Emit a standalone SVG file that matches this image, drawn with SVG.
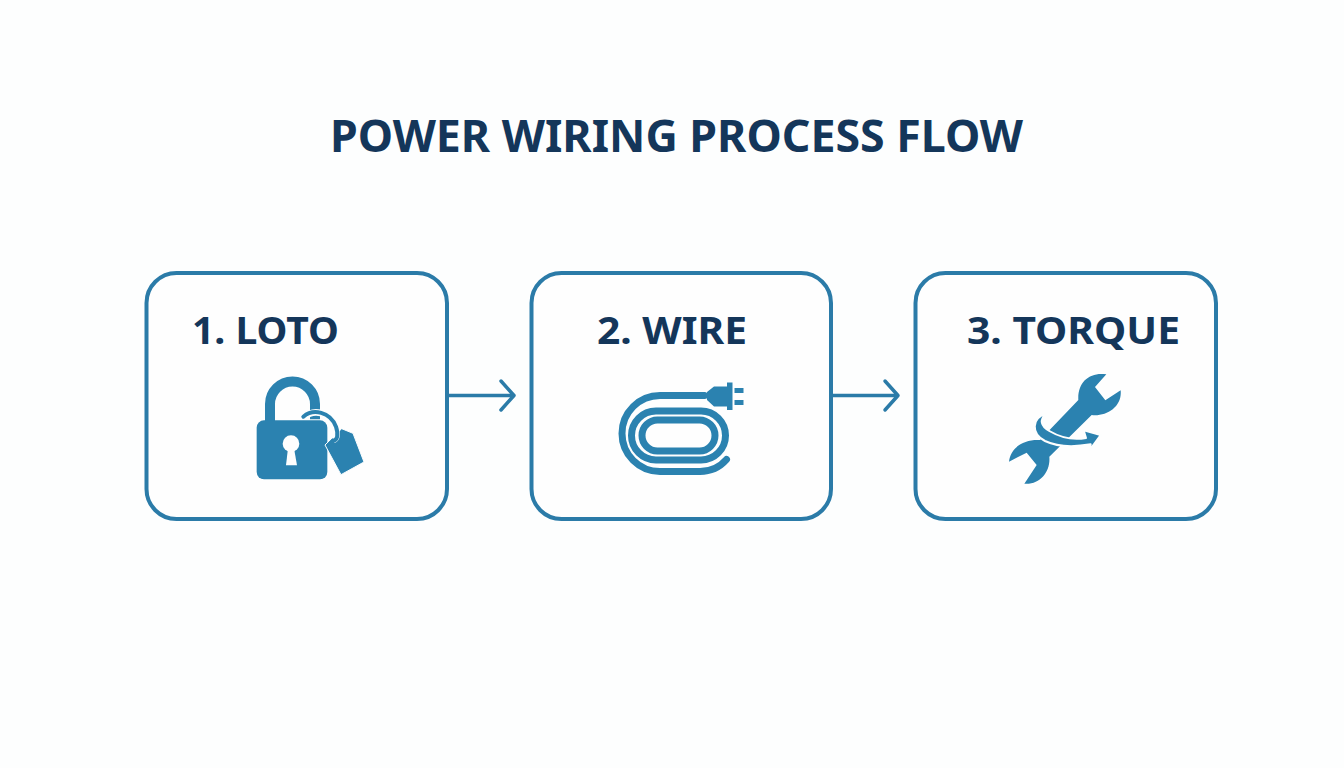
<svg xmlns="http://www.w3.org/2000/svg" width="1344" height="768" viewBox="0 0 1344 768">
<style>
.box{fill:#fefefe;stroke:#2b7ba8;stroke-width:4}
.t{font-family:"Noto Sans","Open Sans",sans-serif;font-weight:700;fill:#14365a}
.lbl{font-size:38px}
.conn{fill:none;stroke:#2b7ba8;stroke-width:3.500;stroke-linecap:round;stroke-linejoin:round}
.ic{fill:#2b82b0}
.st{fill:none;stroke:#2b82b0}
</style>
<rect width="1344" height="768" fill="#fdfefe"/>
<text id="title" class="t" x="676.500" y="152" text-anchor="middle" font-size="44" textLength="693" lengthAdjust="spacingAndGlyphs">POWER WIRING PROCESS FLOW</text>
<g id="connectors">
<path class="conn" d="M449 395.500H513M501 381L514 395.500L501 410"/>
<path class="conn" d="M833 395.500H897M885 381L898 395.500L885 410"/>
</g>
<g id="node1">
<rect class="box" x="146.500" y="273" width="300.500" height="246" rx="30"/>
<text class="t lbl" x="192" y="344" textLength="147" lengthAdjust="spacingAndGlyphs">1. LOTO</text>
<g transform="translate(230 360) scale(.33333)">
<path class="st" stroke-width="30" d="M120 185V132A67.500 67.500 0 0 1 255 132V178"/>
<rect class="ic" x="80" y="181" width="212" height="177" rx="22"/>
<circle cx="183" cy="251" r="25" fill="#fdfefe"/>
<path fill="#fdfefe" d="M174 265H192L201 316H168Z"/>
<path class="ic" stroke="#fdfefe" stroke-width="3" stroke-linejoin="round" d="M335 206L369 220L402 306L333 344L285 255Z"/>
<path fill="none" stroke="#fdfefe" stroke-width="20" d="M222 172C250 145 300 155 316 200C322 220 322 235 310 240"/>
<path class="st" stroke-width="12" stroke-linecap="round" d="M220 170C250 145 300 155 318 200C326 225 322 240 310 242"/>
</g>
</g>
<g id="node2">
<rect class="box" x="531.500" y="273" width="299.500" height="246" rx="30"/>
<text class="t lbl" x="597" y="344" textLength="150" lengthAdjust="spacingAndGlyphs">2. WIRE</text>
<g fill="none" stroke="#2b82b0" stroke-width="7">
<rect x="642" y="420" width="73" height="31" rx="15.500"/>
<rect x="631.500" y="411" width="94" height="49" rx="24.500"/>
<path stroke-linecap="round" d="M704.500 395.500H660A38 38 0 0 0 660 471.500H700Q716 471.500 726.500 459.500"/>
</g>
<path class="ic" d="M707 392L714 386.500H727V382.500H732.500V410H727V406.500H714L707 400Z"/>
<rect class="ic" x="734.500" y="388" width="9" height="5"/>
<rect class="ic" x="734.500" y="400" width="9" height="5"/>
</g>
<g id="node3">
<rect class="box" x="915.500" y="273" width="300.500" height="246" rx="30"/>
<text class="t lbl" x="967" y="344" textLength="213" lengthAdjust="spacingAndGlyphs">3. TORQUE</text>
<g transform="translate(990 365) scale(.33333)">
<path class="ic" d="M349 28C300 20 262 50 265 105L150 225C105 222 62 245 57 290L110 263L140 300L103 356C150 360 182 320 178 275L305 150C350 155 397 125 392 76L346 106L315 66Z"/>
<path class="ic" stroke="#fdfefe" stroke-width="6" stroke-linejoin="round" d="M168 146C125 160 122 205 165 228C205 247 255 246 302 238L299 255L332 210L281 196L288 219C250 226 212 218 178 198C152 182 148 165 168 146Z"/>
</g>
</g>
</svg>
